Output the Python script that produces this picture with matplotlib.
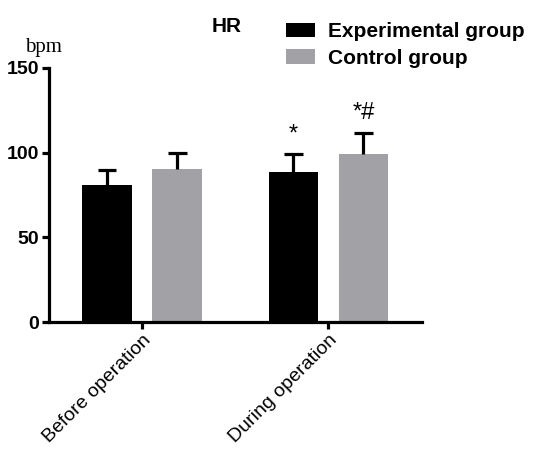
import numpy as np
import matplotlib
matplotlib.use("Agg")
import matplotlib.pyplot as plt

# data
categories = ["Before operation", "During operation"]
groups = ["Experimental group", "Control group"]
exp_mean = [81, 88.6]
exp_sd = [9, 10.4]
ctl_mean = [90.3, 99]
ctl_sd = [9.3, 12.7]
exp_marks = ["", "*"]
ctl_marks = ["", "*#"]

colors = ["#000000", "#a2a2a6"]
sans = ["Liberation Sans", "DejaVu Sans"]

fig = plt.figure(figsize=(5.33, 4.5), dpi=100)
ax = fig.add_axes([0.092, 0.2844, 0.699, 0.5646])

x = np.arange(len(categories))
width = 0.266
offset = 0.188
cap = 0.05

for i, (means, sds, marks) in enumerate([(exp_mean, exp_sd, exp_marks),
                                          (ctl_mean, ctl_sd, ctl_marks)]):
    pos = x + (i * 2 - 1) * offset
    means = np.array(means)
    tops = means + np.array(sds)
    ax.bar(pos, means, width, color=colors[i], label=groups[i], zorder=2)
    # upper error bars only
    ax.vlines(pos, means, tops, color="black", linewidth=2.3, zorder=3)
    ax.hlines(tops, pos - cap, pos + cap, color="black", linewidth=2.3,
              zorder=3)
    for p, t, mk in zip(pos, tops, marks):
        if mk:
            ax.text(p, t + 5, mk, ha="center", va="bottom",
                    fontsize=17, family=sans)

ax.set_xlim(-0.5, 1.5)
ax.set_ylim(0, 150)
ax.set_yticks([0, 50, 100, 150])
ax.set_yticklabels(["0", "50", "100", "150"], family=sans, fontsize=14,
                   fontweight="bold")
ax.set_xticks(x)
ax.set_xticklabels(categories, rotation=45, ha="right",
                   rotation_mode="anchor", family=sans, fontsize=14)

for side in ["top", "right"]:
    ax.spines[side].set_visible(False)
for side in ["left", "bottom"]:
    ax.spines[side].set_linewidth(2.3)
ax.tick_params(axis="both", width=2.3, length=5, pad=2)

ax.text(-0.016, 1.045, "bpm", transform=ax.transAxes, ha="center",
        va="bottom", fontsize=15, family=["Liberation Serif", "DejaVu Serif"])

fig.text(0.426, 0.94, "HR", ha="center", va="center", fontsize=15,
         fontweight="bold", family=sans)

ax.legend(loc="upper left", bbox_to_anchor=(0.636, 1.18), frameon=False,
          prop={"family": sans, "size": 15, "weight": "bold"},
          handlelength=1.4, handleheight=0.72, handletextpad=0.6,
          labelspacing=0.38, borderpad=0, borderaxespad=0)

fig.savefig("out.png", dpi=100)
